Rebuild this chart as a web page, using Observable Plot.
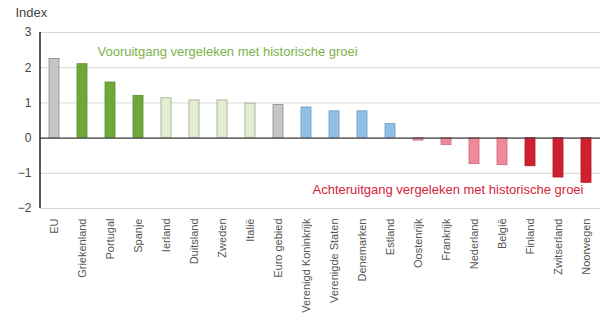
<!DOCTYPE html>
<html><head><meta charset="utf-8">
<script src="https://cdn.jsdelivr.net/npm/d3@7"></script>
<script src="https://cdn.jsdelivr.net/npm/@observablehq/plot@0.6"></script>
<style>body{margin:0;background:#fff;font-family:"Liberation Sans",Arial,sans-serif}</style>
</head><body><div id="chart"></div>
<script>
const countries = ["EU","Griekenland","Portugal","Spanje","Ierland","Duitsland","Zweden","Italië","Euro gebied","Verenigd Koninkrijk","Verenigde Staten","Denemarken","Estland","Oostenrijk","Frankrijk","Nederland","België","Finland","Zwitserland","Noorwegen"];
const values = [2.25,2.1,1.58,1.2,1.13,1.07,1.07,0.98,0.94,0.87,0.76,0.76,0.4,-0.07,-0.2,-0.74,-0.77,-0.8,-1.12,-1.27];
const groups = ["ref","strong","strong","strong","mild","mild","mild","mild","ref","blue","blue","blue","blue","pink","pink","pink","pink","red","red","red"];
const yTicks = [-2,-1,0,1,2,3];
const groupFill = {ref:"#c6c6c6",strong:"#6ea83b",mild:"#e4eed3",blue:"#92bfe4",pink:"#ef8a9b",red:"#d21f2f"};
const groupStroke = {ref:"#8a8a8a",strong:"#5a8f2c",mild:"#9aa88a",blue:"#6e9cc4",pink:"#c9687a",red:"#b01522"};

const data = countries.map((c,i)=>({country:c, value:values[i], group:groups[i]}));

const plot = Plot.plot({
  width:616, height:330,
  marginTop:32, marginBottom:122, marginLeft:40, marginRight:16,
  style:{fontFamily:"Liberation Sans, Arial, sans-serif", fontSize:"11px", color:"#444", background:"#fff"},
  x:{domain:countries, paddingInner:0.64, paddingOuter:0.32, align:0.5, label:null},
  y:{domain:[-2,3], label:null},
  marks:[
    Plot.gridY(yTicks,{stroke:"#d8d8d8", strokeOpacity:1}),
    Plot.axisY({ticks:yTicks, tickFormat:d3.format("d"), tickSize:0, tickPadding:9, fontSize:12, fill:"#444", label:null}),
    Plot.axisX({tickSize:0, tickPadding:10, tickRotate:-90, fontSize:11, fill:"#555", label:null}),
    Plot.barY(data,{x:"country", y:"value", fill:d=>groupFill[d.group], stroke:d=>groupStroke[d.group], strokeWidth:0.8}),
    Plot.ruleY([0],{stroke:"#444", strokeWidth:1.2}),
    Plot.text(["Index"],{frameAnchor:"top-left", dx:-25, dy:-25, fontSize:13, fill:"#444", textAnchor:"start"}),
    Plot.text(["Vooruitgang vergeleken met historische groei"],{x:["Griekenland"], y:[2.44], dx:15, textAnchor:"start", fill:"#7bb249", fontSize:13}),
    Plot.text(["Achteruitgang vergeleken met historische groei"],{x:["Verenigd Koninkrijk"], y:[-1.48], dx:6, textAnchor:"start", fill:"#d3243a", fontSize:13})
  ]
});
document.getElementById("chart").append(plot);
const svg = d3.select(plot);
const ys = plot.scale("y");
svg.append("line").attr("x1",40).attr("x2",40).attr("y1",ys.apply(3)).attr("y2",ys.apply(-2)).attr("stroke","#222").attr("stroke-width",1.5);
</script></body></html>
